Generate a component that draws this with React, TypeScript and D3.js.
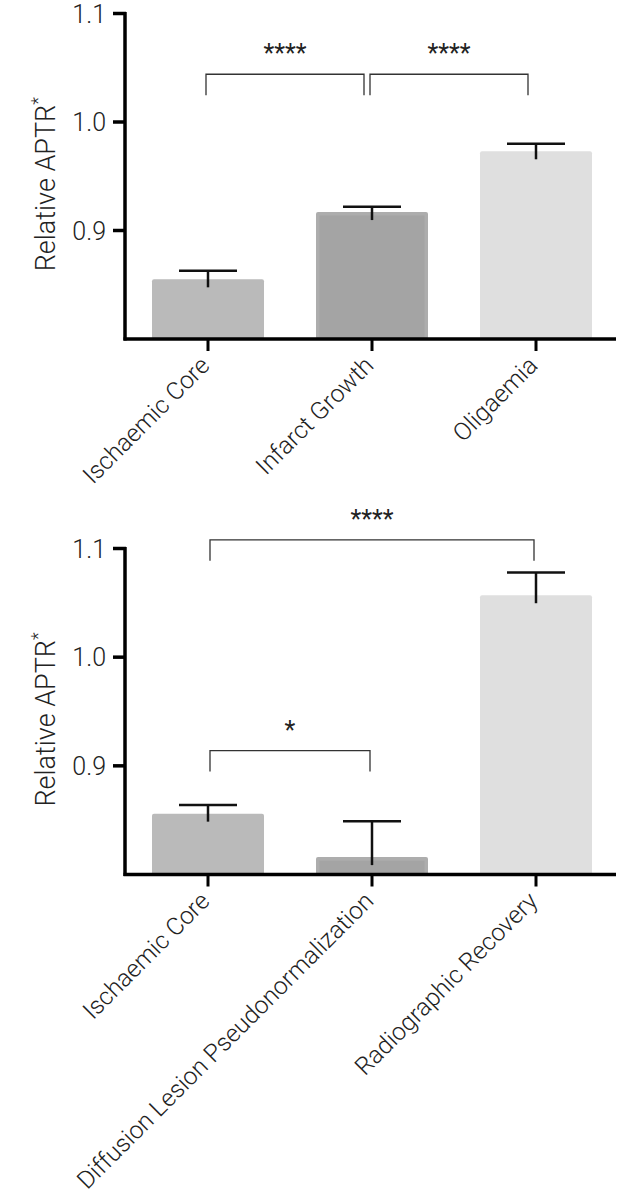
import React from 'react'
import {scaleBand, scaleLinear} from 'd3'

// values
const topCats = ['Ischaemic Core', 'Infarct Growth', 'Oligaemia']
const topMeans = [0.855, 0.917, 0.973]
const topErrs = [0.008, 0.005, 0.007]
const topSig = [
  {from: 0, to: 1, label: '****', level: 1.044},
  {from: 1, to: 2, label: '****', level: 1.044},
]

const bottomCats = ['Ischaemic Core', 'Diffusion Lesion Pseudonormalization', 'Radiographic Recovery']
const bottomMeans = [0.856, 0.816, 1.057]
const bottomErrs = [0.008, 0.033, 0.021]
const bottomSig = [
  {from: 0, to: 2, label: '****', level: 1.108},
  {from: 0, to: 1, label: '*', level: 0.914},
]

const yTicks = [0.9, 1.0, 1.1]
const yDomain = [0.8, 1.1]
const barColors = ['#bababa', '#a4a4a4', '#dfdfdf']

const font = 'Roboto, "Helvetica Neue", Arial, sans-serif'

type Sig = {from: number, to: number, label: string, level: number}

const Panel = ({cats, means, errs, sigs, top, bottom, gapL, gapR}: {
  cats: string[], means: number[], errs: number[], sigs: Sig[],
  top: number, bottom: number, gapL: number, gapR: number
}) => {
  const left = 126
  const x = scaleBand().domain(cats).range([left, 618]).paddingInner(0.317).paddingOuter(0.1585)
  const y = scaleLinear().domain(yDomain).range([bottom, top])
  const bw = x.bandwidth()
  const c = (i: number) => (x(cats[i]) as number) + bw / 2
  const legDrop = 21

  return (
    <g>
      {/* bars */}
      {cats.map((d, i) => (
        <g key={d}>
          <rect x={x(d)} y={y(means[i])} width={bw} height={bottom - y(means[i])}
            fill={i === 1 ? '#adadad' : barColors[i]} rx={2}/>
          {i === 1 &&
            <rect x={(x(d) as number) + 3.5} y={y(means[i]) + 3.5} width={bw - 7}
              height={bottom - y(means[i]) - 3.5} fill={barColors[i]}/>}
          {/* error bar, upper half only */}
          <line x1={c(i)} x2={c(i)} y1={y(means[i]) + 8} y2={y(means[i] + errs[i])}
            stroke='#111' strokeWidth={2.5}/>
          <line x1={c(i) - 29} x2={c(i) + 29} y1={y(means[i] + errs[i])} y2={y(means[i] + errs[i])}
            stroke='#111' strokeWidth={2.5}/>
        </g>
      ))}

      {/* y axis */}
      <line x1={left - 1} x2={left - 1} y1={y(1.1) - 1.5} y2={bottom + 1.5} stroke='#000' strokeWidth={3.5}/>
      {yTicks.map(t => (
        <g key={t}>
          <line x1={left - 13} x2={left} y1={y(t)} y2={y(t)} stroke='#000' strokeWidth={3.5}/>
          <text x={left - 20} y={y(t)} dy='0.36em' textAnchor='end' fontSize={25}
            fontFamily={font} fontWeight={300} fill='#222'>{t.toFixed(1)}</text>
        </g>
      ))}
      <text transform={`translate(55,${(top + bottom) / 2 + 8}) rotate(-90)`} textAnchor='middle'
        fontSize={27} fontFamily={font} fontWeight={300} fill='#222'>
        Relative APTR<tspan fontSize={18} dy={-11}>*</tspan>
      </text>

      {/* x axis */}
      <line x1={left - 2.5} x2={616} y1={bottom} y2={bottom} stroke='#000' strokeWidth={3.5}/>
      {cats.map((d, i) => (
        <g key={d}>
          <line x1={c(i)} x2={c(i)} y1={bottom} y2={bottom + 12} stroke='#000' strokeWidth={3}/>
          <text transform={`translate(${c(i) + 3},${bottom + 28}) rotate(-45)`} textAnchor='end'
            fontSize={24.5} fontFamily={font} fontWeight={300} fill='#222'>{d}</text>
        </g>
      ))}

      {/* significance brackets */}
      {sigs.map((s, k) => {
        const x1 = c(s.from) + gapL
        const x2 = c(s.to) + gapR
        const yb = y(s.level)
        return (
          <g key={k}>
            <path d={`M${x1},${yb + legDrop}V${yb}H${x2}V${yb + legDrop}`} fill='none'
              stroke='#333' strokeWidth={1.3}/>
            <text x={(x1 + x2) / 2} y={yb - 12} textAnchor='middle' fontSize={25}
              fontFamily={font} fill='#222'>{s.label}</text>
          </g>
        )
      })}
    </g>
  )
}

const App = () => {
  return (
    <div style={{position: 'absolute', left: 0, top: 0}}>
      <svg width={642} height={1200} style={{display: 'block', background: '#fff'}}>
        <Panel cats={topCats} means={topMeans} errs={topErrs} sigs={topSig}
          top={13.5} bottom={339} gapL={-2} gapR={-8}/>
        <Panel cats={bottomCats} means={bottomMeans} errs={bottomErrs} sigs={bottomSig}
          top={548.5} bottom={874.5} gapL={2} gapR={-2}/>
      </svg>
    </div>
  )
}

export default App
